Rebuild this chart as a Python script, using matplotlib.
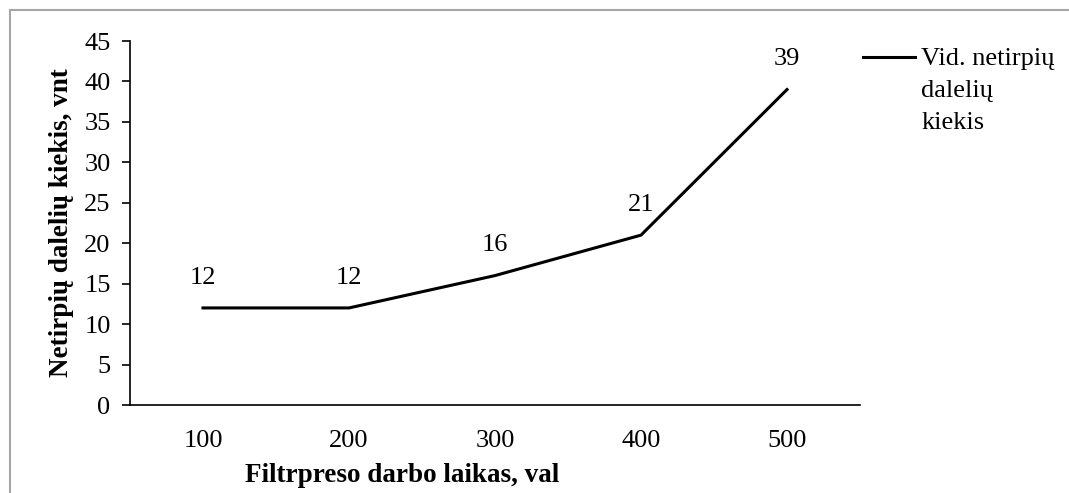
import matplotlib; matplotlib.use("Agg")
import matplotlib.pyplot as plt
import numpy as np
from matplotlib.patches import Rectangle
from matplotlib.legend_handler import HandlerLine2D

plt.rcParams.update({"font.family": "Liberation Serif", "font.size": 19})

hours = ["100", "200", "300", "400", "500"]
particles = [12, 12, 16, 21, 39]


class FirstLineHandler(HandlerLine2D):
    # keep the legend line level with the first row of a multi-line label
    def create_artists(self, legend, orig_handle, xdescent, ydescent, width, height, fontsize, trans):
        arts = super().create_artists(legend, orig_handle, xdescent, ydescent, width, height, fontsize, trans)
        for a in arts:
            a.set_ydata(np.asarray(a.get_ydata()) + 1.27 * fontsize)
        return arts


fig = plt.figure(figsize=(10.69, 4.93), dpi=100)
fig.patches.append(Rectangle((10/1069, -0.1), 1.2, (493-10)/493 + 0.1, transform=fig.transFigure,
                             fill=False, edgecolor="#a6a6a6", lw=1.5))
ax = fig.add_axes([130/1069, 88/493, 730/1069, 364/493])

x = np.arange(1, len(hours) + 1)
line, = ax.plot(x, particles, color="black", lw=2.2)
for xi, v in zip(x, particles):
    ax.annotate(f"{v}", (xi, v), xytext=(0, 17.5), textcoords="offset points",
                ha="center", va="baseline", fontsize=19)

ax.set_xlim(0.5, 5.5)
ax.set_ylim(0, 45)
ax.set_yticks(range(0, 46, 5))
ax.set_xticks(x)
ax.set_xticklabels(hours)
ax.tick_params(axis="x", length=0, pad=18)
ax.tick_params(axis="y", length=6, direction="out", pad=8, width=1.2)
for s in ("top", "right"):
    ax.spines[s].set_visible(False)
ax.spines["left"].set_linewidth(1.2)
ax.spines["bottom"].set_linewidth(1.2)

ax.set_xlabel("Filtrpreso darbo laikas, val", fontweight="bold", fontsize=19.5)
ax.xaxis.set_label_coords((402-130)/730, -(475-405)/364)
ax.set_ylabel("Netirpių dalelių kiekis, vnt", fontweight="bold", fontsize=19.5)
ax.yaxis.set_label_coords((62-130)/730, 0.5)
ax.xaxis.label.set_va("center")
ax.yaxis.label.set_va("center")

leg = ax.legend([line], ["Vid. netirpių\ndalelių\nkiekis"], loc="upper left",
                bbox_to_anchor=((863-130)/730, (405-48)/364), frameon=False, fontsize=19,
                handlelength=1.97, handletextpad=0.23, borderaxespad=0, borderpad=0,
                handler_map={line: FirstLineHandler()})
for t in leg.get_texts():
    t.set_linespacing(1.6)

fig.savefig("out.png", dpi=100, facecolor="white")
